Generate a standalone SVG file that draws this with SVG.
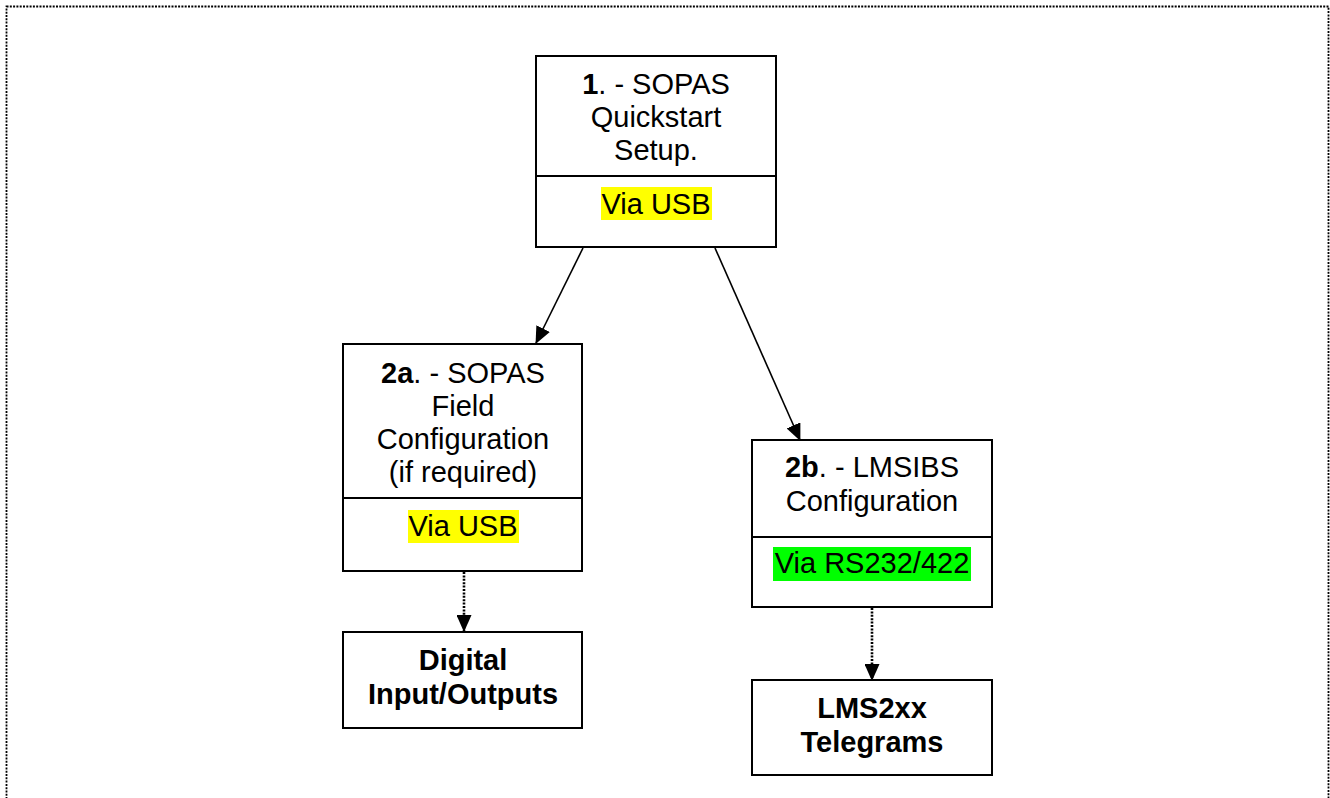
<svg xmlns="http://www.w3.org/2000/svg" width="1330" height="798" viewBox="0 0 1330 798">
<style>
.box{fill:#fff;stroke:#000;stroke-width:2}
.div{stroke:#000;stroke-width:2}
.t{font-family:"Liberation Sans",Arial,sans-serif;font-size:29px;fill:#000;text-anchor:middle}
.b{font-weight:bold}
.conn{stroke:#000;stroke-width:1.6;fill:none}
.dot{stroke:#000;stroke-width:2.6;fill:none;stroke-dasharray:2 1.4}
</style>
<defs>
<marker id="ah" markerUnits="userSpaceOnUse" markerWidth="17" markerHeight="15" refX="16" refY="7.5" orient="auto">
<path d="M0,0 L17,7.5 L0,15 Z" fill="#000"/>
</marker>
</defs>
<rect x="6.5" y="6.5" width="1322" height="820" fill="none" stroke="#000" stroke-width="1.8" stroke-dasharray="2 1.3"/>
<g id="connectors">
<line class="conn" x1="583" y1="248" x2="536" y2="343" marker-end="url(#ah)"/>
<line class="conn" x1="715" y1="248" x2="800" y2="440" marker-end="url(#ah)"/>
<line class="dot" x1="464" y1="572" x2="464" y2="631" marker-end="url(#ah)"/>
<line class="dot" x1="872" y1="608" x2="872" y2="680" marker-end="url(#ah)"/>
</g>
<g id="node1">
<rect class="box" x="536" y="56" width="240" height="191"/>
<line class="div" x1="536" y1="176" x2="776" y2="176"/>
<text class="t" x="656" y="94"><tspan class="b">1</tspan>. - SOPAS</text>
<text class="t" x="656" y="127">Quickstart</text>
<text class="t" x="656" y="160">Setup.</text>
<rect x="601" y="187" width="111" height="33" fill="#ffff00"/>
<text class="t" x="656" y="214">Via USB</text>
</g>
<g id="node2a">
<rect class="box" x="343" y="344" width="239" height="227"/>
<line class="div" x1="343" y1="498" x2="582" y2="498"/>
<text class="t" x="463" y="383"><tspan class="b">2a</tspan>. - SOPAS</text>
<text class="t" x="463" y="416">Field</text>
<text class="t" x="463" y="449">Configuration</text>
<text class="t" x="463" y="482">(if required)</text>
<rect x="408" y="510" width="111" height="33" fill="#ffff00"/>
<text class="t" x="463" y="536">Via USB</text>
</g>
<g id="node2b">
<rect class="box" x="752" y="440" width="240" height="167"/>
<line class="div" x1="752" y1="537" x2="992" y2="537"/>
<text class="t" x="872" y="477"><tspan class="b">2b</tspan>. - LMSIBS</text>
<text class="t" x="872" y="511">Configuration</text>
<rect x="773" y="547" width="198" height="34" fill="#00ff00"/>
<text class="t" x="872" y="573">Via RS232/422</text>
</g>
<g id="nodeDigital">
<rect class="box" x="343" y="632" width="239" height="96"/>
<text class="t b" x="463" y="670">Digital</text>
<text class="t b" x="463" y="704">Input/Outputs</text>
</g>
<g id="nodeLMS">
<rect class="box" x="752" y="680" width="240" height="95"/>
<text class="t b" x="872" y="718">LMS2xx</text>
<text class="t b" x="872" y="752">Telegrams</text>
</g>
</svg>
